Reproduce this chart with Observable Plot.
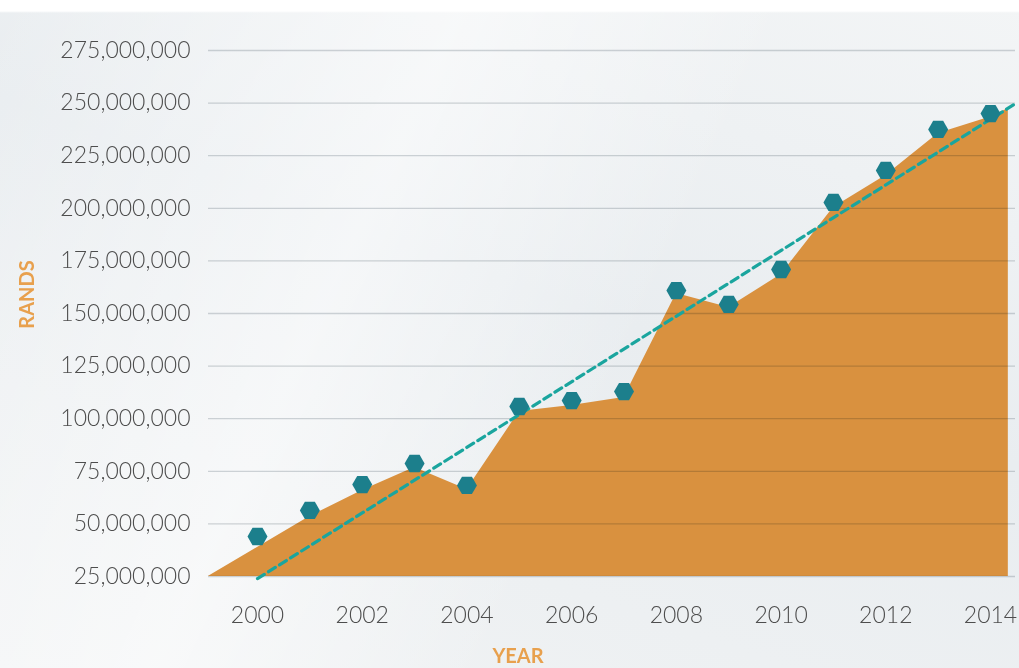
<!DOCTYPE html>
<html>
<head>
<meta charset="utf-8">
<script src="https://cdn.jsdelivr.net/npm/d3@7"></script>
<script src="https://cdn.jsdelivr.net/npm/@observablehq/plot@0.6"></script>
<style>
  html, body { margin: 0; padding: 0; }
  body {
    width: 1019px; height: 668px; overflow: hidden;
    background:
      linear-gradient(to bottom, #ffffff 0px, #ffffff 11px, rgba(255,255,255,0) 13px),
      linear-gradient(115deg, rgba(255,255,255,0) 0%, rgba(255,255,255,0.55) 35%, rgba(255,255,255,0) 60%),
      linear-gradient(200deg, #f3f5f6 0%, #e9edf0 45%, #f1f3f4 100%);
  }
  #chart { position: absolute; left: 0; top: 0; }
</style>
</head>
<body>
<div id="chart"></div>
<script>
// Data
const years = [2000, 2001, 2002, 2003, 2004, 2005, 2006, 2007, 2008, 2009, 2010, 2011, 2012, 2013, 2014];
const rands = [44.0, 56.4, 68.7, 78.7, 68.3, 105.8, 108.6, 112.9, 160.9, 154.3, 170.9, 202.8, 218.0, 237.5, 245.0].map(v => v * 1e6);

// Area outline (sits slightly below the markers in the picture)
const areaYears = [1999.06, 2001, 2002, 2003, 2004, 2005, 2006, 2007, 2008, 2009, 2010, 2011, 2012, 2013, 2014, 2014.34];
const areaValues = [25.0, 53.5, 65.9, 76.8, 66.3, 103.4, 106.3, 110.1, 159.5, 152.9, 168.5, 200.4, 215.6, 235.6, 243.4, 247.4].map(v => v * 1e6);

// Dashed trend line end points
const trendYears = [2000, 2014.48];
const trendValues = [24.0e6, 249.8e6];

const yTicks = [25, 50, 75, 100, 125, 150, 175, 200, 225, 250, 275].map(v => v * 1e6);
const xTicks = [2000, 2002, 2004, 2006, 2008, 2010, 2012, 2014];

const points = years.map((y, i) => ({year: y, value: rands[i]}));
const areaData = areaYears.map((y, i) => ({year: y, value: areaValues[i]}));
const trendData = trendYears.map((y, i) => ({year: y, value: trendValues[i]}));

// flat-topped hexagon
const hexFlat = {
  draw(context, size) {
    const r = Math.sqrt(size / Math.PI);
    const h = r * Math.sqrt(3) / 2;
    context.moveTo(r, 0);
    context.lineTo(r / 2, h);
    context.lineTo(-r / 2, h);
    context.lineTo(-r, 0);
    context.lineTo(-r / 2, -h);
    context.lineTo(r / 2, -h);
    context.closePath();
  }
};

const fontFamily = "Lato, 'Open Sans', sans-serif";

const chart = Plot.plot({
  width: 1019,
  height: 668,
  marginLeft: 208,
  marginRight: 4,
  marginTop: 50,
  marginBottom: 92,
  style: {background: "transparent", fontFamily: fontFamily},
  x: {domain: [1999.064, 2014.477]},
  y: {domain: [25e6, 275e6]},
  marks: [
    Plot.areaY(areaData, {x: "year", y1: 25e6, y2: "value", fill: "#d9913f", fillOpacity: 1, curve: "linear"}),
    Plot.gridY(yTicks, {stroke: "#d3d7da", strokeOpacity: 1, strokeWidth: 1.3, mixBlendMode: "multiply"}),
    Plot.line(trendData, {x: "year", y: "value", stroke: "#1aa59e", strokeWidth: 3.2, strokeDasharray: "8,5"}),
    Plot.dot(points, {x: "year", y: "value", symbol: hexFlat, r: 10, fill: "#1c7f8c", stroke: "none"}),
    Plot.axisY(yTicks, {
      tickSize: 0, tickPadding: 18, tickFormat: d3.format(","),
      fontSize: 23, fill: "#4d4d4d", fontWeight: 300, label: null
    }),
    Plot.axisX(xTicks, {
      tickSize: 0, tickPadding: 30, tickFormat: d => String(d),
      fontSize: 23, fill: "#4d4d4d", fontWeight: 300, label: null
    }),
    Plot.text(["YEAR"], {
      frameAnchor: "bottom", dx: -94, dy: 80, text: d => d,
      lineAnchor: "middle", textAnchor: "middle",
      fill: "#e8a04d", fontSize: 20, fontWeight: "bold"
    }),
    Plot.text(["RANDS"], {
      frameAnchor: "left", dx: -181, dy: -19, rotate: -90, text: d => d,
      lineAnchor: "middle", textAnchor: "middle",
      fill: "#e8a04d", fontSize: 20, fontWeight: "bold"
    })
  ]
});

document.getElementById("chart").appendChild(chart);
</script>
</body>
</html>
